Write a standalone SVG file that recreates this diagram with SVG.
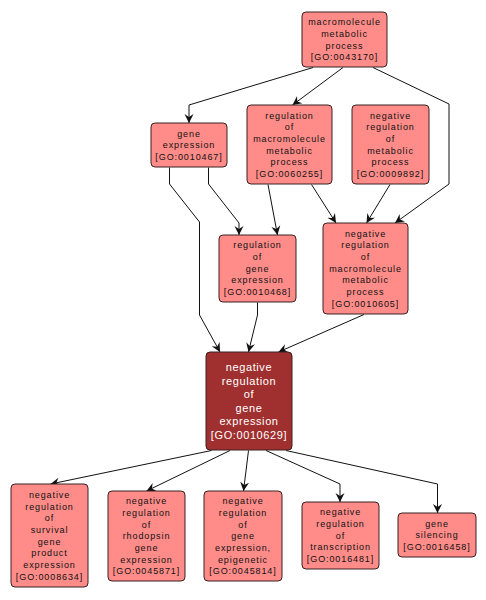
<svg xmlns="http://www.w3.org/2000/svg" width="486" height="600" viewBox="0 0 486 600">
<style>
.n rect{fill:#ff8c89;stroke:#3a2020;stroke-width:1}
.m rect{fill:#a0302f;stroke:#3a2020;stroke-width:1}
text{font-family:"Liberation Sans",Arial,sans-serif;font-size:9px;letter-spacing:0.9px;text-anchor:middle;fill:#111}
.m text{font-size:11px;letter-spacing:0.6px;fill:#fff}
.e path{fill:none;stroke:#111;stroke-width:1;marker-end:url(#a)}
</style>
<defs>
<marker id="a" markerUnits="userSpaceOnUse" markerWidth="10" markerHeight="10" refX="9" refY="5" orient="auto" viewBox="0 0 10 10">
<path d="M0,0.5 L9,5 L0,9.5 L3,5 z" fill="#111"/>
</marker>
</defs>
<rect width="486" height="600" fill="#fff"/>
<g class="e" id="edges">
<path d="M313,67.5 L189,105 L189,123"/>
<path d="M343,67.5 L292.5,105"/>
<path d="M373,67.5 L449,104 L449,184 L395,223"/>
<path d="M169.5,167.5 L169.5,184 L199.5,222 L199.5,315 L220,352"/>
<path d="M208.5,167.5 L208.5,184 L239,223 L239,235"/>
<path d="M268,184.5 L277.5,235"/>
<path d="M311.5,184.5 L336,223"/>
<path d="M390,184.5 L366.5,223"/>
<path d="M257.5,302.5 L257.5,315 L248.5,352"/>
<path d="M364,314.5 L278.5,352"/>
<path d="M211.5,450.5 L50.5,484"/>
<path d="M230,450.5 L146.5,491"/>
<path d="M248.5,450.5 L243.5,491"/>
<path d="M266,450.5 L340,484 L340,502"/>
<path d="M286,450.5 L437.5,484 L437.5,513"/>
</g>
<g class="n" id="GO0043170"><rect x="302" y="12" width="85" height="55" rx="4"/><text x="344.5" y="25.2"><tspan x="344.5">macromolecule</tspan><tspan x="344.5" dy="11.7">metabolic</tspan><tspan x="344.5" dy="11.7">process</tspan><tspan x="344.5" dy="11.7">[GO:0043170]</tspan></text></g>
<g class="n" id="GO0010467"><rect x="151" y="123" width="76" height="44" rx="4"/><text x="189" y="136.5"><tspan x="189">gene</tspan><tspan x="189" dy="11.7">expression</tspan><tspan x="189" dy="11.7">[GO:0010467]</tspan></text></g>
<g class="n" id="GO0060255"><rect x="247" y="105" width="85" height="79" rx="4"/><text x="289.5" y="118.5"><tspan x="289.5">regulation</tspan><tspan x="289.5" dy="11.7">of</tspan><tspan x="289.5" dy="11.7">macromolecule</tspan><tspan x="289.5" dy="11.7">metabolic</tspan><tspan x="289.5" dy="11.7">process</tspan><tspan x="289.5" dy="11.7">[GO:0060255]</tspan></text></g>
<g class="n" id="GO0009892"><rect x="352" y="105" width="77" height="79" rx="4"/><text x="390.5" y="118.5"><tspan x="390.5">negative</tspan><tspan x="390.5" dy="11.7">regulation</tspan><tspan x="390.5" dy="11.7">of</tspan><tspan x="390.5" dy="11.7">metabolic</tspan><tspan x="390.5" dy="11.7">process</tspan><tspan x="390.5" dy="11.7">[GO:0009892]</tspan></text></g>
<g class="n" id="GO0010468"><rect x="219" y="235" width="77" height="67" rx="4"/><text x="257.5" y="248.3"><tspan x="257.5">regulation</tspan><tspan x="257.5" dy="11.7">of</tspan><tspan x="257.5" dy="11.7">gene</tspan><tspan x="257.5" dy="11.7">expression</tspan><tspan x="257.5" dy="11.7">[GO:0010468]</tspan></text></g>
<g class="n" id="GO0010605"><rect x="323" y="223" width="85" height="91" rx="4"/><text x="365.5" y="236.6"><tspan x="365.5">negative</tspan><tspan x="365.5" dy="11.7">regulation</tspan><tspan x="365.5" dy="11.7">of</tspan><tspan x="365.5" dy="11.7">macromolecule</tspan><tspan x="365.5" dy="11.7">metabolic</tspan><tspan x="365.5" dy="11.7">process</tspan><tspan x="365.5" dy="11.7">[GO:0010605]</tspan></text></g>
<g class="m" id="GO0010629"><rect x="206" y="352" width="86" height="98" rx="4"/><text x="249" y="370.9"><tspan x="249">negative</tspan><tspan x="249" dy="13.6">regulation</tspan><tspan x="249" dy="13.6">of</tspan><tspan x="249" dy="13.6">gene</tspan><tspan x="249" dy="13.6">expression</tspan><tspan x="249" dy="13.6">[GO:0010629]</tspan></text></g>
<g class="n" id="GO0008634"><rect x="11" y="484" width="77" height="103" rx="4"/><text x="49.5" y="497.8"><tspan x="49.5">negative</tspan><tspan x="49.5" dy="11.7">regulation</tspan><tspan x="49.5" dy="11.7">of</tspan><tspan x="49.5" dy="11.7">survival</tspan><tspan x="49.5" dy="11.7">gene</tspan><tspan x="49.5" dy="11.7">product</tspan><tspan x="49.5" dy="11.7">expression</tspan><tspan x="49.5" dy="11.7">[GO:0008634]</tspan></text></g>
<g class="n" id="GO0045871"><rect x="108" y="491" width="77" height="90" rx="4"/><text x="146.5" y="504.1"><tspan x="146.5">negative</tspan><tspan x="146.5" dy="11.7">regulation</tspan><tspan x="146.5" dy="11.7">of</tspan><tspan x="146.5" dy="11.7">rhodopsin</tspan><tspan x="146.5" dy="11.7">gene</tspan><tspan x="146.5" dy="11.7">expression</tspan><tspan x="146.5" dy="11.7">[GO:0045871]</tspan></text></g>
<g class="n" id="GO0045814"><rect x="204" y="491" width="78" height="90" rx="4"/><text x="243" y="504.1"><tspan x="243">negative</tspan><tspan x="243" dy="11.7">regulation</tspan><tspan x="243" dy="11.7">of</tspan><tspan x="243" dy="11.7">gene</tspan><tspan x="243" dy="11.7">expression,</tspan><tspan x="243" dy="11.7">epigenetic</tspan><tspan x="243" dy="11.7">[GO:0045814]</tspan></text></g>
<g class="n" id="GO0016481"><rect x="302" y="502" width="77" height="67" rx="4"/><text x="340.5" y="515.3"><tspan x="340.5">negative</tspan><tspan x="340.5" dy="11.7">regulation</tspan><tspan x="340.5" dy="11.7">of</tspan><tspan x="340.5" dy="11.7">transcription</tspan><tspan x="340.5" dy="11.7">[GO:0016481]</tspan></text></g>
<g class="n" id="GO0016458"><rect x="398" y="513" width="78" height="44" rx="4"/><text x="437" y="526.5"><tspan x="437">gene</tspan><tspan x="437" dy="11.7">silencing</tspan><tspan x="437" dy="11.7">[GO:0016458]</tspan></text></g>
</svg>
